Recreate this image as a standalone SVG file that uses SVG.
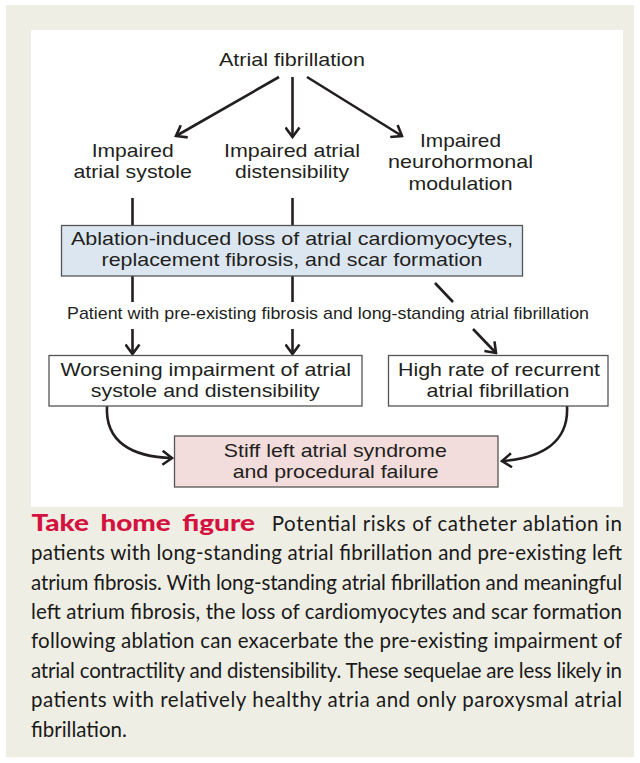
<svg xmlns="http://www.w3.org/2000/svg" width="640" height="763" viewBox="0 0 640 763">
<defs>
<marker id="ah" viewBox="-11 -8 13 16" markerWidth="13" markerHeight="16" refX="0" refY="0" orient="auto" markerUnits="userSpaceOnUse">
<path d="M-9.5,-7 L0,0 L-9.5,7" fill="none" stroke="#231f20" stroke-width="2.6" stroke-linejoin="miter"/>
</marker>
<style>
.t{font-family:"Liberation Sans",Arial,sans-serif;font-size:19px;fill:#231f20;text-anchor:middle}
.s{font-size:15.7px}
.c{stroke:#231f20;stroke-width:2.6;fill:none}
.box{stroke:#555;stroke-width:1.3}
.cap{font-family:Lato,"Open Sans",sans-serif;font-size:20.5px;fill:#1a1a1a}
.ttl{font-family:Lato,"Open Sans",sans-serif;font-size:23px;font-weight:900;fill:#d4123f;word-spacing:4px}
</style>
</defs>
<rect x="0" y="0" width="640" height="763" fill="#ffffff"/>
<rect x="6" y="5" width="628" height="752" fill="#efeee4"/>
<rect x="31" y="30" width="592" height="477" fill="#ffffff"/>

<g id="connectors">
<line class="c" x1="279" y1="77" x2="176" y2="136" marker-end="url(#ah)"/>
<line class="c" x1="292.5" y1="77" x2="292.5" y2="137" marker-end="url(#ah)"/>
<line class="c" x1="307" y1="77" x2="402" y2="136" marker-end="url(#ah)"/>
<line class="c" x1="132.5" y1="198" x2="132.5" y2="226"/>
<line class="c" x1="292.5" y1="198" x2="292.5" y2="226"/>
<line class="c" x1="132.5" y1="276" x2="132.5" y2="302"/>
<line class="c" x1="292.5" y1="276" x2="292.5" y2="302"/>
<line class="c" x1="132.5" y1="329" x2="132.5" y2="354" marker-end="url(#ah)"/>
<line class="c" x1="292.5" y1="329" x2="292.5" y2="354" marker-end="url(#ah)"/>
<line class="c" x1="435" y1="283" x2="453" y2="302"/>
<line class="c" x1="473" y1="329" x2="496" y2="353" marker-end="url(#ah)"/>
<path class="c" d="M107,406 C105,442 132,457 172,458" marker-end="url(#ah)"/>
<path class="c" d="M567,406 C569,442 542,458 502,461" marker-end="url(#ah)"/>
</g>

<g id="n-af">
<text class="t" x="292" y="66" textLength="146" lengthAdjust="spacingAndGlyphs">Atrial fibrillation</text>
</g>
<g id="n-systole">
<text class="t" x="132.7" y="156.5" textLength="82" lengthAdjust="spacingAndGlyphs">Impaired</text>
<text class="t" x="132.7" y="178" textLength="118.5" lengthAdjust="spacingAndGlyphs">atrial systole</text>
</g>
<g id="n-disten">
<text class="t" x="292" y="156.5" textLength="136" lengthAdjust="spacingAndGlyphs">Impaired atrial</text>
<text class="t" x="292" y="178" textLength="114" lengthAdjust="spacingAndGlyphs">distensibility</text>
</g>
<g id="n-neuro">
<text class="t" x="460.5" y="146.5" textLength="81" lengthAdjust="spacingAndGlyphs">Impaired</text>
<text class="t" x="460.5" y="168" textLength="145" lengthAdjust="spacingAndGlyphs">neurohormonal</text>
<text class="t" x="460.5" y="189.5" textLength="104" lengthAdjust="spacingAndGlyphs">modulation</text>
</g>
<g id="n-ablation">
<rect class="box" x="61.5" y="225.5" width="461" height="50.5" fill="#dce6f1"/>
<text class="t" x="292" y="245" textLength="442" lengthAdjust="spacingAndGlyphs">Ablation-induced loss of atrial cardiomyocytes,</text>
<text class="t" x="292" y="266" textLength="381" lengthAdjust="spacingAndGlyphs">replacement fibrosis, and scar formation</text>
</g>
<g id="n-patient">
<text class="t s" x="328" y="319" textLength="522" lengthAdjust="spacingAndGlyphs">Patient with pre-existing fibrosis and long-standing atrial fibrillation</text>
</g>
<g id="n-worsening">
<rect class="box" x="49" y="355.5" width="313" height="50.5" fill="#ffffff"/>
<text class="t" x="205.7" y="376" textLength="290.6" lengthAdjust="spacingAndGlyphs">Worsening impairment of atrial</text>
<text class="t" x="205.3" y="396.5" textLength="229" lengthAdjust="spacingAndGlyphs">systole and distensibility</text>
</g>
<g id="n-recurrent">
<rect class="box" x="388.5" y="355.5" width="219.5" height="50.5" fill="#ffffff"/>
<text class="t" x="499" y="376" textLength="202" lengthAdjust="spacingAndGlyphs">High rate of recurrent</text>
<text class="t" x="498" y="396.5" textLength="143" lengthAdjust="spacingAndGlyphs">atrial fibrillation</text>
</g>
<g id="n-stiff">
<rect class="box" x="174.5" y="436" width="323.5" height="51" fill="#f2dcdc"/>
<text class="t" x="335.3" y="457" textLength="223" lengthAdjust="spacingAndGlyphs">Stiff left atrial syndrome</text>
<text class="t" x="335.7" y="478" textLength="206" lengthAdjust="spacingAndGlyphs">and procedural failure</text>
</g>

<g id="caption">
<text class="ttl" x="31.5" y="530.7" textLength="223.5" lengthAdjust="spacingAndGlyphs">Take home figure</text>
<text class="cap" x="271.7" y="530.7" textLength="350.3" lengthAdjust="spacing">Potential risks of catheter ablation in</text>
<text class="cap" x="31" y="560.1" textLength="591" lengthAdjust="spacing">patients with long-standing atrial fibrillation and pre-existing left</text>
<text class="cap" x="31" y="589.5" textLength="591" lengthAdjust="spacing">atrium fibrosis. With long-standing atrial fibrillation and meaningful</text>
<text class="cap" x="31" y="618.9" textLength="591" lengthAdjust="spacing">left atrium fibrosis, the loss of cardiomyocytes and scar formation</text>
<text class="cap" x="31" y="648.3" textLength="591" lengthAdjust="spacing">following ablation can exacerbate the pre-existing impairment of</text>
<text class="cap" x="31" y="677.7" textLength="591" lengthAdjust="spacing">atrial contractility and distensibility. These sequelae are less likely in</text>
<text class="cap" x="31" y="707.1" textLength="591" lengthAdjust="spacing">patients with relatively healthy atria and only paroxysmal atrial</text>
<text class="cap" x="31" y="736.5">fibrillation.</text>
</g>
</svg>
